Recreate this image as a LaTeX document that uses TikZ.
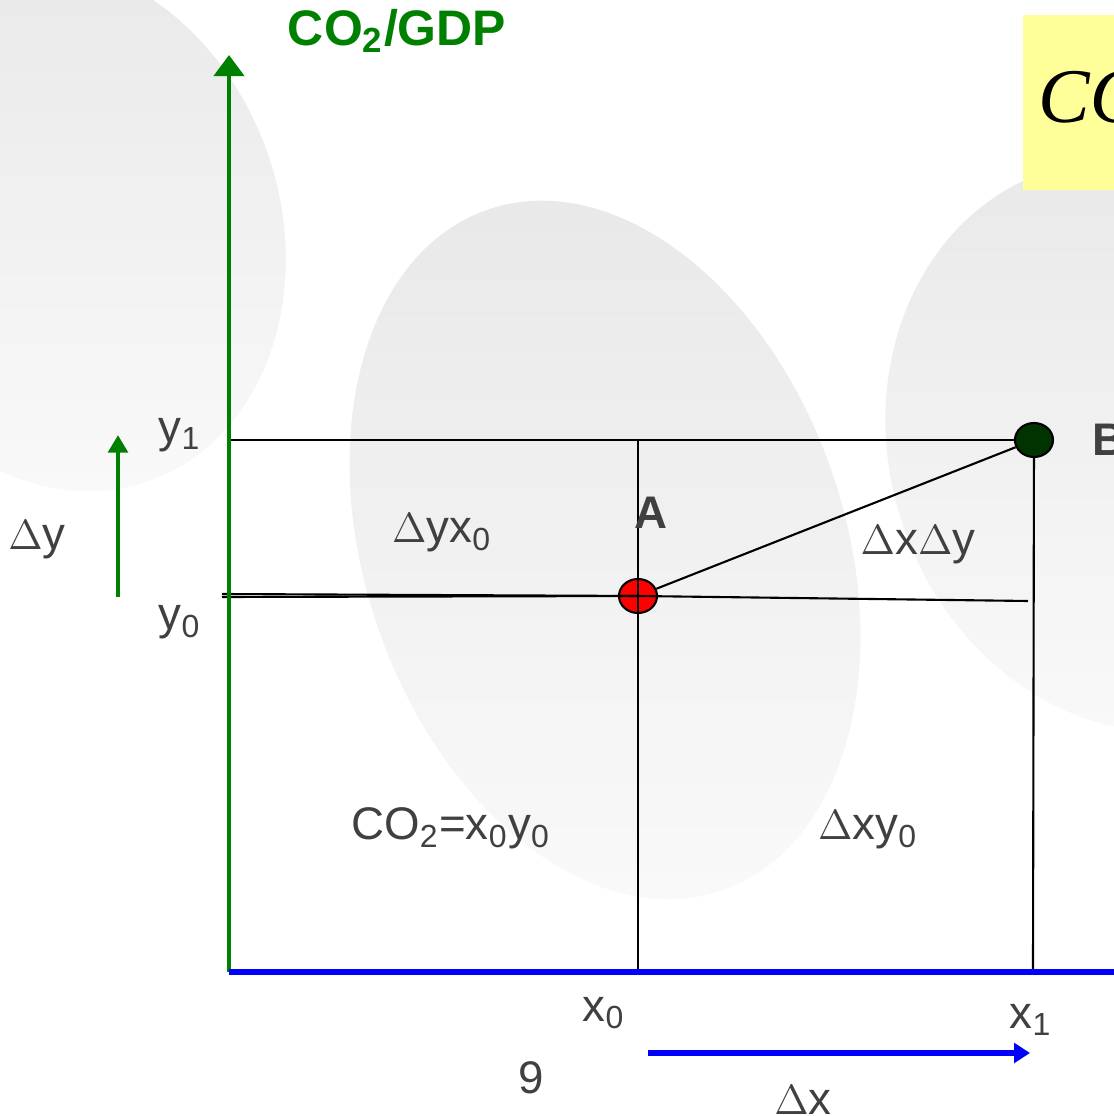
\documentclass[tikz,border=0pt]{standalone}
\usepackage{fontspec}
\setmainfont{Liberation Sans}
\newfontfamily\boxserif{Liberation Serif}
\usetikzlibrary{arrows.meta, shapes.geometric}
\definecolor{axisgreen}{RGB}{0,128,0}
\definecolor{axisblue}{RGB}{0,0,255}
\definecolor{labelgray}{RGB}{64,64,64}
\definecolor{notebox}{RGB}{255,255,153}
\definecolor{darkpt}{RGB}{0,51,0}
\definecolor{blobtop}{RGB}{232,232,232}
\definecolor{blobbot}{RGB}{250,250,250}

\begin{document}
\begin{tikzpicture}[
    lbl/.style={text=labelgray, font=\fontsize{13}{15}\selectfont, inner sep=0pt},
    ptlbl/.style={text=labelgray, font=\fontsize{13}{15}\selectfont\bfseries, inner sep=0pt},
    gridln/.style={draw=black, line width=0.6pt},
    dotpt/.style={ellipse, draw=black, line width=0.6pt, minimum width=0.38cm, minimum height=0.34cm, inner sep=0pt},
    yaxis/.style={draw=axisgreen, line width=1.4pt},
    xaxis/.style={draw=axisblue, line width=1.6pt},
    blob/.style={top color=blobtop, bottom color=blobbot, draw=none}
  ]
  \useasboundingbox (0,0) rectangle (11.14,11.16);
  \clip (0,0) rectangle (11.14,11.16);

  % background
  \shade[blob, rotate around={19:(0.6,8.9)}] (0.6,8.9) ellipse (2.2cm and 2.7cm);
  \shade[blob, rotate around={19:(6.05,5.66)}] (6.05,5.66) ellipse (2.4cm and 3.6cm);
  \shade[blob, rotate around={19:(11.4,6.7)}] (11.4,6.7) ellipse (2.5cm and 2.9cm);

  % note box
  \fill[notebox] (10.23,9.26) rectangle (11.3,11.01);
  \node[anchor=base west, inner sep=0pt, font=\boxserif\itshape\fontsize{22}{26}\selectfont] (boxtxt) at (10.38,9.93) {CO};

  \coordinate (O) at (2.29,1.44);
  \coordinate (ytop) at (2.29,10.61);
  \coordinate (xend) at (11.3,1.44);
  \coordinate (y1l) at (2.29,6.76);
  \coordinate (x0top) at (6.38,6.76);
  \coordinate (x0bot) at (6.38,1.44);
  \coordinate (x1bot) at (10.33,1.44);
  \coordinate (y0l) at (2.22,5.22);
  \coordinate (y0r) at (10.28,5.15);

  \node[dotpt, fill=red] (A) at (6.38,5.20) {};
  \node[dotpt, fill=darkpt] (B) at (10.34,6.76) {};

  \draw[gridln] (y1l) -- (B);
  \draw[gridln] (x0top) -- (x0bot);
  \draw[gridln] (B) -- (x1bot);
  \draw[gridln] (y0l) -- (A.center);
  \draw[gridln] ([yshift=-0.03cm]y0l) -- (A.center);
  \draw[gridln] (A.center) -- (y0r);
  \draw[gridln] (A) -- (B);

  \draw[yaxis, -{Triangle[width=8.5pt,length=6pt]}] (O) -- (ytop);
  \draw[xaxis] (O) -- (xend);

  \node[text=axisgreen, font=\fontsize{14.2}{16}\selectfont\bfseries, inner sep=0pt] (title) at (3.97,10.85) {CO\textsubscript{2}/GDP};

  \node[ptlbl] (labA) at (6.51,6.03) {A};
  \node[ptlbl, anchor=west] (labB) at (10.92,6.76) {B};

  \node[lbl] (ly1) at (1.80,6.81) {y\textsubscript{1}};
  \node[lbl] (ly0) at (1.80,4.94) {y\textsubscript{0}};
  \node[lbl] (ldy) at (0.37,5.76) {$\Delta$y};
  \node[lbl] (ldyx) at (4.42,5.83) {$\Delta$yx\textsubscript{0}};
  \node[lbl] (ldxdy) at (9.18,5.71) {$\Delta$x$\Delta$y};
  \node[lbl] (lco) at (4.51,2.88) {CO\textsubscript{2}=x\textsubscript{0}y\textsubscript{0}};
  \node[lbl] (ldxy) at (8.68,2.86) {$\Delta$xy\textsubscript{0}};
  \node[lbl] (lx0) at (6.04,1.03) {x\textsubscript{0}};
  \node[lbl] (lx1) at (10.31,0.96) {x\textsubscript{1}};
  \node[lbl] (lnine) at (5.31,0.38) {9};
  \node[lbl] (ldx) at (8.03,0.16) {$\Delta$x};

  % delta arrows
  \coordinate (dys) at (1.18,5.19);
  \coordinate (dye) at (1.18,6.81);
  \coordinate (dxs) at (6.48,0.63);
  \coordinate (dxe) at (10.30,0.63);
  \draw[yaxis, -{Triangle[width=5.5pt,length=5pt]}] (dys) -- (dye);
  \draw[xaxis, -{Triangle[width=5.5pt,length=4.5pt]}] (dxs) -- (dxe);
\end{tikzpicture}
\end{document}
